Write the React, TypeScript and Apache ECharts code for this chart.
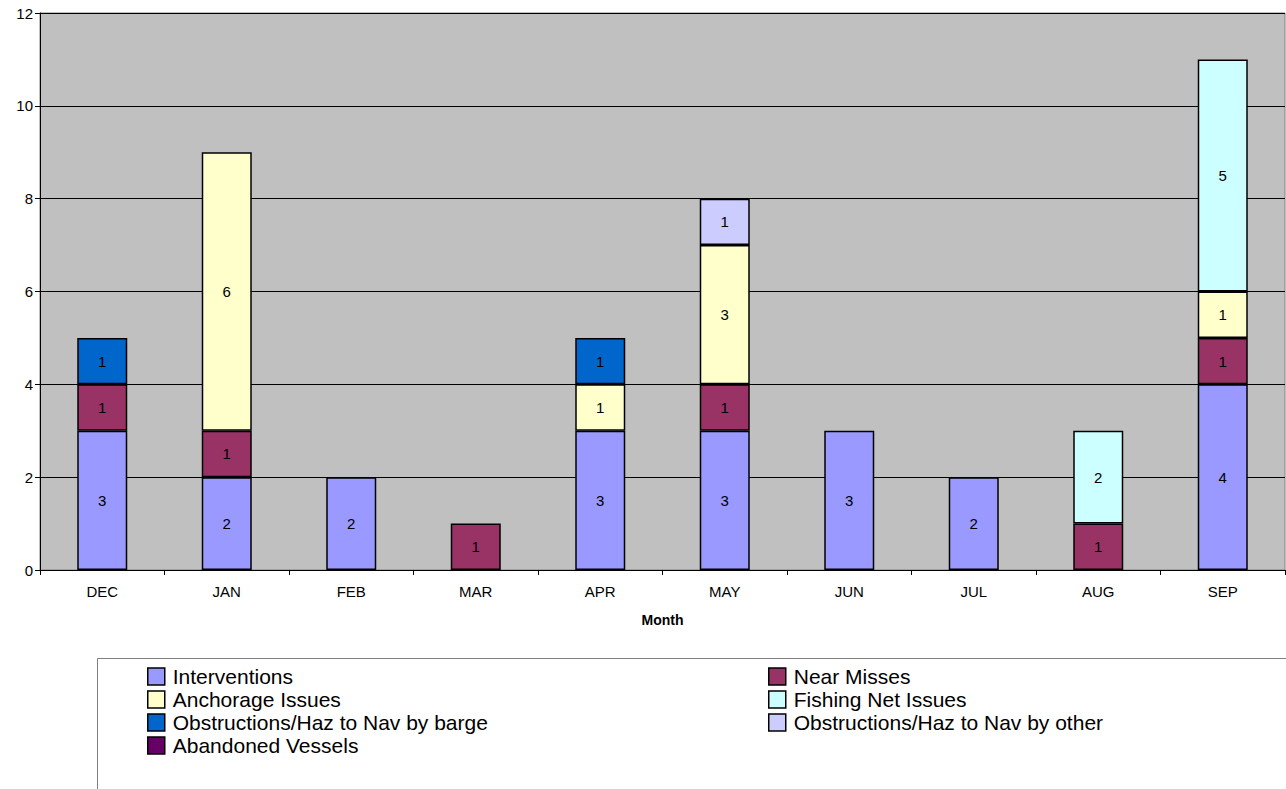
import React, { useEffect, useRef } from "react";
import * as echarts from "echarts";

const months = ["DEC", "JAN", "FEB", "MAR", "APR", "MAY", "JUN", "JUL", "AUG", "SEP"];

const interventions = [3, 2, 2, null, 3, 3, 3, 2, null, 4];
const nearMisses = [1, 1, null, 1, null, 1, null, null, 1, 1];
const anchorageIssues = [null, 6, null, null, 1, 3, null, null, null, 1];
const fishingNetIssues = [null, null, null, null, null, null, null, null, 2, 5];
const obstructionsBarge = [1, null, null, null, 1, null, null, null, null, null];
const obstructionsOther = [null, null, null, null, null, 1, null, null, null, null];
const abandonedVessels = [null, null, null, null, null, null, null, null, null, null];

const yTicks = { min: 0, max: 12, interval: 2 };

const seriesDefs = [
  { name: "Interventions", data: interventions, color: "#9999FF" },
  { name: "Near Misses", data: nearMisses, color: "#993366" },
  { name: "Anchorage Issues", data: anchorageIssues, color: "#FFFFCC" },
  { name: "Fishing Net Issues", data: fishingNetIssues, color: "#CCFFFF" },
  { name: "Obstructions/Haz to Nav by barge", data: obstructionsBarge, color: "#0066CC" },
  { name: "Obstructions/Haz to Nav by other", data: obstructionsOther, color: "#CCCCFF" },
  { name: "Abandoned Vessels", data: abandonedVessels, color: "#660066" },
];

const legendLeftCol = [
  "Interventions",
  "Anchorage Issues",
  "Obstructions/Haz to Nav by barge",
  "Abandoned Vessels",
];
const legendRightCol = [
  "Near Misses",
  "Fishing Net Issues",
  "Obstructions/Haz to Nav by other",
];

const FONT = "'Liberation Sans', Arial, sans-serif";

export default function App() {
  const ref = useRef<HTMLDivElement>(null);

  useEffect(() => {
    document.body.style.margin = "0";
    if (!ref.current) return;
    const chart = echarts.init(ref.current, null, { renderer: "svg" });

    const legendCommon = {
      orient: "vertical" as const,
      top: 665,
      itemWidth: 17,
      itemHeight: 17,
      itemGap: 0,
      icon: "rect",
      selectedMode: false,
      itemStyle: { borderColor: "#000", borderWidth: 1.5 },
      textStyle: {
        fontFamily: FONT,
        fontSize: 21,
        color: "#000",
        lineHeight: 23,
        padding: [0, 0, 0, 3],
      },
      padding: 0,
    };

    chart.setOption({
      animation: false,
      backgroundColor: "#fff",
      textStyle: { fontFamily: FONT },
      grid: {
        left: 40,
        right: 1,
        top: 13,
        bottom: 219,
        show: true,
        backgroundColor: "#C0C0C0",
        borderColor: "#808080",
        borderWidth: 1,
        containLabel: false,
      },
      xAxis: {
        type: "category",
        data: months,
        name: "Month",
        nameLocation: "middle",
        nameGap: 43,
        nameTextStyle: { fontFamily: FONT, fontSize: 14, fontWeight: "bold", color: "#000" },
        axisLine: { lineStyle: { color: "#000", width: 1 } },
        axisTick: { show: true, length: 5, lineStyle: { color: "#000" } },
        axisLabel: { fontFamily: FONT, fontSize: 15, color: "#000", margin: 14 },
        splitLine: { show: false },
      },
      yAxis: {
        type: "value",
        min: yTicks.min,
        max: yTicks.max,
        interval: yTicks.interval,
        axisLine: { show: true, lineStyle: { color: "#000", width: 1 } },
        axisTick: { show: true, length: 5, lineStyle: { color: "#000" } },
        axisLabel: { fontFamily: FONT, fontSize: 15, color: "#000", margin: 7 },
        splitLine: { show: true, lineStyle: { color: "#000", width: 1 } },
      },
      legend: [
        { ...legendCommon, left: 147, data: legendLeftCol },
        { ...legendCommon, left: 768, data: legendRightCol },
      ],
      graphic: [
        {
          type: "rect",
          shape: { x: 97.5, y: 658.5, width: 1300, height: 300 },
          style: { fill: "none", stroke: "#808080", lineWidth: 1 },
          z: -1,
        },
      ],
      series: seriesDefs.map((s) => ({
        name: s.name,
        type: "bar",
        stack: "total",
        data: s.data,
        barWidth: 50,
        itemStyle: { color: s.color, borderColor: "#000", borderWidth: 1.5 },
        label: {
          show: true,
          position: "inside",
          color: "#000",
          fontFamily: FONT,
          fontSize: 15,
          formatter: (p: any) => (p.value == null ? "" : String(p.value)),
        },
        emphasis: { disabled: true },
      })),
    });

    return () => chart.dispose();
  }, []);

  return (
    <div
      ref={ref}
      style={{ position: "absolute", left: 0, top: 0, width: 1286, height: 789 }}
    />
  );
}
